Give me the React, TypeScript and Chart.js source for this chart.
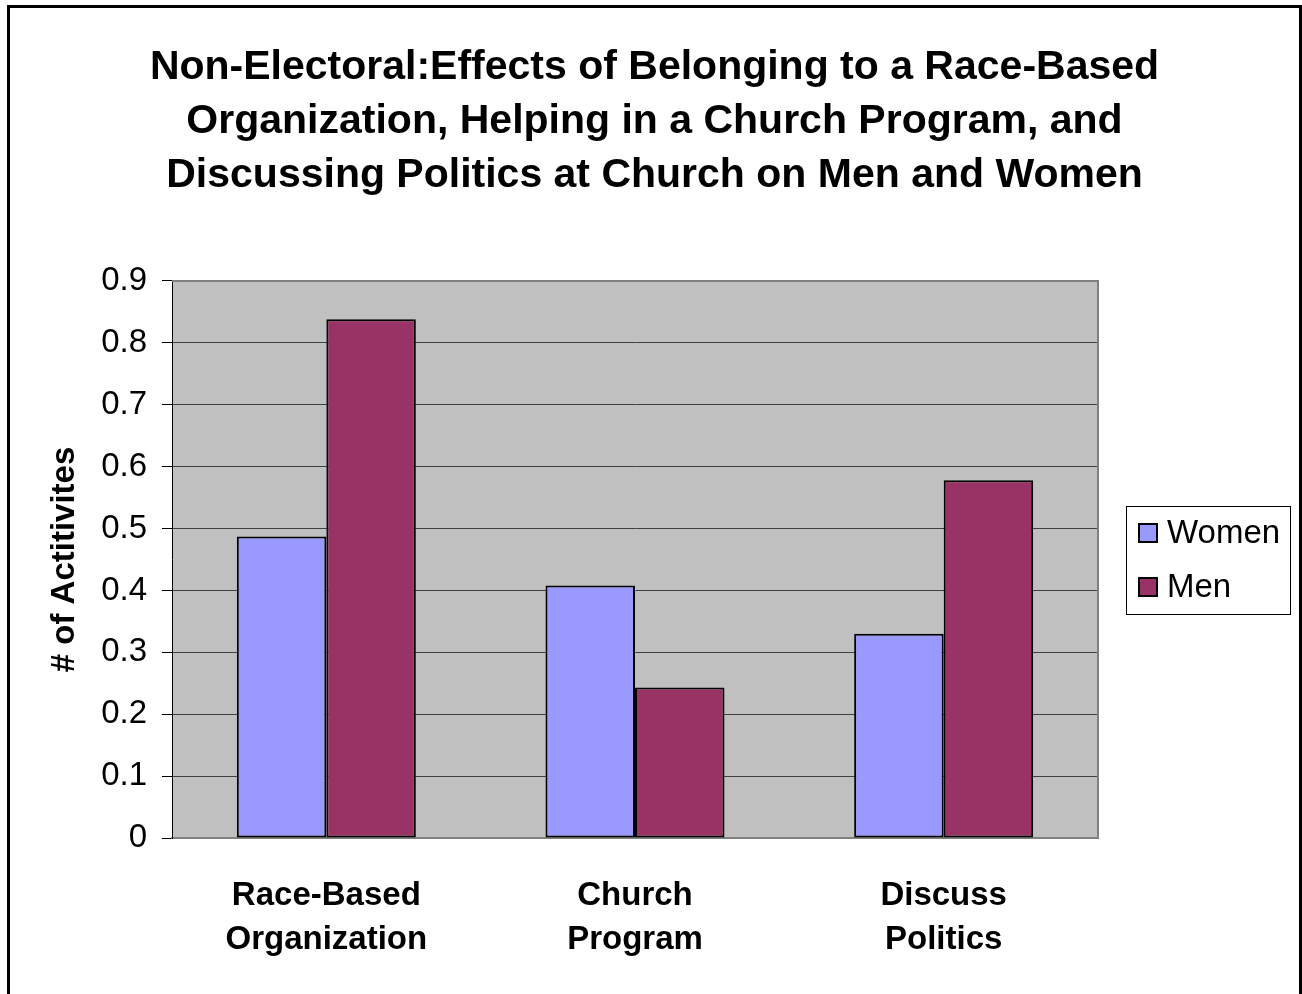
import React, { useEffect, useRef } from 'react';
import { Chart, registerables } from 'chart.js';

Chart.register(...registerables);

const titleLines = [
  'Non-Electoral:Effects of Belonging to a Race-Based',
  'Organization, Helping in a Church Program, and',
  'Discussing Politics at Church on Men and Women',
];
const categories = [
  ['Race-Based', 'Organization'],
  ['Church', 'Program'],
  ['Discuss', 'Politics'],
];
const seriesNames = ['Women', 'Men'];
const womenValues = [0.487, 0.408, 0.33];
const menValues = [0.838, 0.243, 0.578];
const seriesColors = ['#9999FF', '#993366'];
const yMin = 0;
const yMax = 0.9;
const yStep = 0.1;
const yTitle = '# of Actitivites';

const FONT = '"Liberation Sans", Arial, sans-serif';

const plotBgPlugin = {
  id: 'plotBg',
  beforeDraw(chart: any) {
    const { ctx, chartArea } = chart;
    ctx.save();
    ctx.fillStyle = '#C0C0C0';
    ctx.fillRect(chartArea.left, chartArea.top, chartArea.right - chartArea.left, chartArea.bottom - chartArea.top);
    ctx.restore();
  },
  afterDatasetsDraw(chart: any) {
    const { ctx, chartArea } = chart;
    ctx.save();
    ctx.strokeStyle = '#808080';
    ctx.lineWidth = 2;
    ctx.beginPath();
    ctx.moveTo(chartArea.left, chartArea.top);
    ctx.lineTo(chartArea.right, chartArea.top);
    ctx.lineTo(chartArea.right, chartArea.bottom);
    ctx.stroke();
    ctx.restore();
  },
};

const boxLegendPlugin = {
  id: 'boxLegend',
  afterDraw(chart: any) {
    const { ctx, chartArea } = chart;
    const x0 = chartArea.right + 28;
    const y0 = 498;
    const w = 164;
    const h = 108;
    ctx.save();
    ctx.fillStyle = '#FFFFFF';
    ctx.fillRect(x0, y0, w, h);
    ctx.strokeStyle = '#000000';
    ctx.lineWidth = 1;
    ctx.strokeRect(x0 + 0.5, y0 + 0.5, w, h);
    ctx.font = `33px ${FONT}`;
    ctx.textBaseline = 'middle';
    ctx.textAlign = 'left';
    chart.data.datasets.forEach((ds: any, i: number) => {
      const cy = y0 + 27 + i * 54;
      ctx.fillStyle = ds.backgroundColor;
      ctx.fillRect(x0 + 13, cy - 9, 18, 18);
      ctx.strokeStyle = '#000';
      ctx.lineWidth = 2;
      ctx.strokeRect(x0 + 13, cy - 9, 18, 18);
      ctx.fillStyle = '#000';
      ctx.fillText(ds.label, x0 + 41, cy + 1);
    });
    ctx.restore();
  },
};

export default function App() {
  const canvasRef = useRef<HTMLCanvasElement | null>(null);

  useEffect(() => {
    document.body.style.margin = '0';
    document.body.style.overflow = 'hidden';
    const canvas = canvasRef.current;
    if (!canvas) return;
    const chart = new Chart(canvas, {
      type: 'bar',
      data: {
        labels: categories as any,
        datasets: [
          {
            label: seriesNames[0],
            data: womenValues,
            backgroundColor: seriesColors[0],
            borderColor: '#000000',
            borderWidth: 2,
            borderSkipped: false,
          },
          {
            label: seriesNames[1],
            data: menValues,
            backgroundColor: seriesColors[1],
            borderColor: '#000000',
            borderWidth: 2,
            borderSkipped: false,
          },
        ],
      },
      options: {
        responsive: false,
        animation: false,
        devicePixelRatio: 1,
        layout: { padding: 0 },
        datasets: { bar: { categoryPercentage: 0.58, barPercentage: 1 } },
        plugins: {
          legend: { display: false },
          tooltip: { enabled: false },
          title: {
            display: true,
            text: titleLines,
            color: '#000',
            font: { family: FONT, size: 41, weight: 'bold', lineHeight: 1.317 },
            padding: { top: 33, bottom: 78 },
          },
        },
        scales: {
          x: {
            grid: { display: false, drawTicks: false },
            border: { display: true, color: '#808080', width: 2 },
            ticks: {
              color: '#000',
              font: { family: FONT, size: 33, weight: 'bold', lineHeight: 1.36 },
              padding: 35,
              maxRotation: 0,
              autoSkip: false,
            },
            afterFit(scale: any) {
              scale.height = 156;
            },
          },
          y: {
            min: yMin,
            max: yMax,
            grid: {
              color: '#404040',
              lineWidth: 1,
              tickColor: '#000',
              tickLength: 10,
              drawTicks: true,
            },
            border: { display: true, color: '#000', width: 1 },
            ticks: {
              stepSize: yStep,
              color: '#000',
              font: { family: FONT, size: 33 },
              padding: 15,
              callback: (v: any) => String(Number(Number(v).toFixed(1))),
            },
            title: {
              display: true,
              text: yTitle,
              color: '#000',
              font: { family: FONT, size: 33, weight: 'bold' },
              padding: { top: 35, bottom: 0 },
            },
            afterFit(scale: any) {
              scale.width = 162;
            },
          },
          legendSpace: {
            type: 'linear',
            position: 'right',
            display: true,
            grid: { display: false, drawTicks: false },
            border: { display: false },
            ticks: { display: false },
            afterFit(scale: any) {
              scale.width = 201;
            },
          },
        },
      },
      plugins: [plotBgPlugin, boxLegendPlugin],
    } as any);
    return () => chart.destroy();
  }, []);

  return (
    <div
      style={{
        position: 'absolute',
        left: 7,
        top: 5,
        width: 1289,
        height: 986,
        border: '3px solid #000',
        background: '#fff',
      }}
    >
      <canvas ref={canvasRef} width={1289} height={986} style={{ display: 'block' }} />
    </div>
  );
}
